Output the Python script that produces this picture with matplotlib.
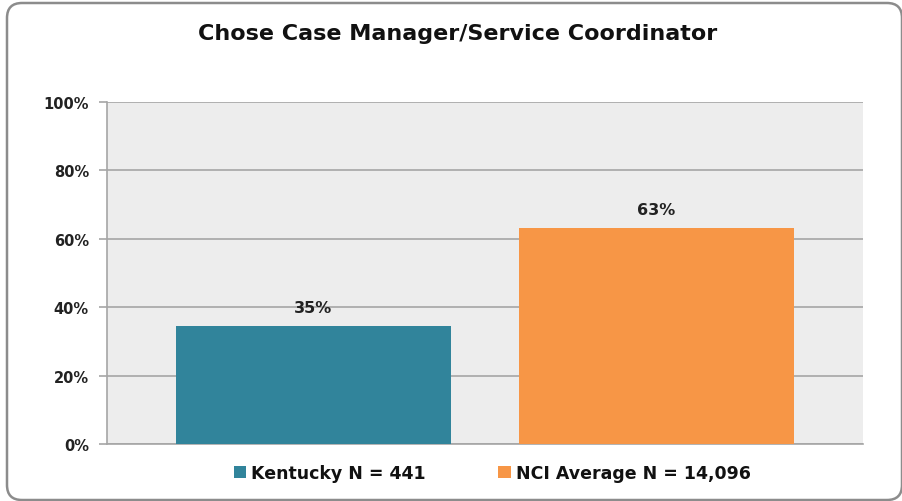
import numpy as np
import matplotlib
matplotlib.use("Agg")
import matplotlib.pyplot as plt
from matplotlib.patches import FancyBboxPatch
from matplotlib.transforms import IdentityTransform

# data
title = "Chose Case Manager/Service Coordinator"
series_names = ["Kentucky N = 441", "NCI Average N = 14,096"]
series_values = [34.5, 63.2]
value_labels = ["35%", "63%"]
series_colors = ["#31849B", "#F79646"]
y_ticks = [0, 20, 40, 60, 80, 100]

plt.rcParams["font.family"] = ["DejaVu Sans"]

fig = plt.figure(figsize=(9.03, 5.02), dpi=100)
ax = fig.add_axes([0.1185, 0.1135, 0.8372, 0.6813])

# rounded chart border, in pixels (dpi 100)
frame = FancyBboxPatch((7, 1), 895, 497, boxstyle="round,pad=0,rounding_size=15",
                       transform=IdentityTransform(), facecolor="white", edgecolor="#8C8C8C",
                       linewidth=1.8, zorder=-10)
fig.patches.append(frame)

ax.set_facecolor("#EDEDED")
offsets = [-0.227, 0.227]
bar_width = 0.364
for name, val, lab, col, off in zip(series_names, series_values, value_labels, series_colors, offsets):
    ax.bar(off, val, width=bar_width, color=col, label=name, zorder=3)
    ax.annotate(lab, (off, val), xytext=(0, 8), textcoords="offset points",
                ha="center", va="bottom", fontsize=11.5, fontweight="bold", color="#222222")

ax.set_xlim(-0.5, 0.5)
ax.set_ylim(0, 100)
ax.set_yticks(y_ticks)
ax.set_yticklabels([f"{t}%" for t in y_ticks], fontsize=10.5, fontweight="bold", color="#222222")
ax.set_xticks([])
ax.yaxis.grid(True, color="#A6A6A6", linewidth=1.2, zorder=0)
ax.set_axisbelow(True)
ax.tick_params(axis="y", length=6, color="#A6A6A6", width=1.2, pad=7)
for side in ["top", "right"]:
    ax.spines[side].set_visible(False)
for side in ["left", "bottom"]:
    ax.spines[side].set_color("#A6A6A6")
    ax.spines[side].set_linewidth(1.2)

fig.text(0.507, 0.932, title, ha="center", va="center", fontsize=16, fontweight="bold", color="#111111")

leg = fig.legend(loc="center", bbox_to_anchor=(0.545, 0.055), ncol=2, frameon=False,
                 handlelength=0.7, handleheight=0.7, handletextpad=0.3, columnspacing=4.2,
                 prop={"size": 12.5, "weight": "bold"})
for t in leg.get_texts():
    t.set_color("#111111")

fig.savefig("out.png", dpi=100)
